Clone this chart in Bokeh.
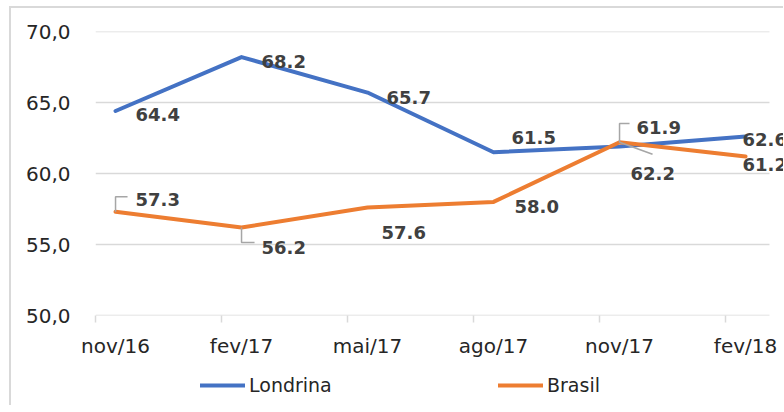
from bokeh.plotting import figure
from bokeh.layouts import column
from bokeh.models import ColumnDataSource, FixedTicker, Legend, LegendItem, Range1d
from bokeh.core.properties import value
from bokeh.embed import file_html
from bokeh.resources import INLINE

# ---- data ----
categories = ["nov/16", "fev/17", "mai/17", "ago/17", "nov/17", "fev/18"]
londrina = [64.4, 68.2, 65.7, 61.5, 61.9, 62.6]
brasil = [57.3, 56.2, 57.6, 58.0, 62.2, 61.2]
londrina_labels = ["64.4", "68.2", "65.7", "61.5", "61.9", "62.6"]
brasil_labels = ["57.3", "56.2", "57.6", "58.0", "62.2", "61.2"]
y_ticks = [50, 55, 60, 65, 70]
y_tick_labels = ["50,0", "55,0", "60,0", "65,0", "70,0"]
series_names = ["Londrina", "Brasil"]

# ---- styles / label placement (screen px) ----
BLUE = "#4472C4"
ORANGE = "#ED7D31"
GRID = "#d9d9d9"
TEXT = "#404040"
LEADER = "#a6a6a6"

lond_dx = [20, 20, 19, 18, 17, -3]
lond_dy = [3, 4, 5, -15, -19, 3]
bras_dx = [20, 20, 14, 21, 11, -3]
bras_dy = [-12, 20, 25, 5, 31, 8]

LEFT = 84
FRAME_W, FRAME_H = 688, 284
PX_X = 126.0
X_START = -0.159
GRID_END = 5.19
X_END = X_START + FRAME_W / PX_X
Y_START, Y_END = 50, 70
PX_Y = FRAME_H / (Y_END - Y_START)

x = list(range(len(categories)))

p = figure(frame_width=FRAME_W, frame_height=FRAME_H, output_backend="svg",
           toolbar_location=None,
           x_range=Range1d(X_START, X_END), y_range=Range1d(Y_START, Y_END),
           min_border_left=LEFT, min_border_right=0, min_border_top=23,
           min_border_bottom=50)
p.outline_line_color = None
p.background_fill_color = "white"
p.border_fill_color = "white"

# horizontal gridlines drawn up to the end of the category area
p.xgrid.grid_line_color = None
p.ygrid.grid_line_color = None
p.segment(x0=[X_START] * len(y_ticks), y0=y_ticks, x1=[GRID_END] * len(y_ticks),
          y1=y_ticks, line_color=GRID, line_width=1.5)

p.yaxis.ticker = FixedTicker(ticks=y_ticks, minor_ticks=[])
p.yaxis.major_label_overrides = {t: l for t, l in zip(y_ticks, y_tick_labels)}
p.yaxis.axis_line_color = None
p.yaxis.major_tick_line_color = None
p.yaxis.minor_tick_line_color = None
p.yaxis.major_label_standoff = 19
p.yaxis.major_label_text_font = "DejaVu Sans"
p.yaxis.major_label_text_font_size = "20px"
p.yaxis.major_label_text_color = "#262626"

p.xaxis.ticker = FixedTicker(ticks=x, minor_ticks=[i + X_START for i in x])
p.xaxis.major_label_overrides = {i: c for i, c in zip(x, categories)}
p.xaxis.axis_line_color = None
p.xaxis.major_tick_line_color = None
p.xaxis.major_tick_out = 0
p.xaxis.major_tick_in = 0
p.xaxis.minor_tick_line_color = GRID
p.xaxis.minor_tick_line_width = 1.5
p.xaxis.minor_tick_out = 7
p.xaxis.minor_tick_in = 0
p.xaxis.major_label_standoff = 11
p.xaxis.major_label_text_font = "DejaVu Sans"
p.xaxis.major_label_text_font_size = "20px"
p.xaxis.major_label_text_color = "#262626"

# lines
p.line(x, londrina, line_color=BLUE, line_width=4, line_join="round", line_cap="round")
p.line(x, brasil, line_color=ORANGE, line_width=4, line_join="round", line_cap="round")

# leader lines (anchored at data points, offsets in px)
leaders = [
    (brasil, 0, [(0, 0), (0, -15), (12, -15)]),
    (brasil, 1, [(0, 0), (0, 15), (13, 15)]),
    (londrina, 4, [(0, -4), (0, -23), (10, -23)]),
    (brasil, 4, [(0, 0), (33, 12)]),
]
lxs, lys = [], []
for series, i, offs in leaders:
    lxs.append([i + dx / PX_X for dx, dy in offs])
    lys.append([series[i] - dy / PX_Y for dx, dy in offs])
p.multi_line(lxs, lys, line_color=LEADER, line_width=1.5)

# data labels
src_l = ColumnDataSource(dict(x=x, y=londrina, t=londrina_labels, dx=lond_dx, dy=lond_dy))
src_b = ColumnDataSource(dict(x=x, y=brasil, t=brasil_labels, dx=bras_dx, dy=bras_dy))
for src in (src_l, src_b):
    p.text("x", "y", text="t", x_offset="dx", y_offset="dy", source=src,
           text_font=value("DejaVu Sans"), text_font_style="bold",
           text_font_size="18px", text_color=TEXT,
           text_align="left", text_baseline="middle")

# legend strip below the chart (legend renderers hold the series, drawn off-range)
lg = figure(frame_width=LEFT + FRAME_W, frame_height=40, output_backend="svg",
            toolbar_location=None, x_axis_type=None, y_axis_type=None,
            x_range=Range1d(-1, -0.5), y_range=Range1d(-1, -0.5),
            min_border=0)
lg.outline_line_color = None
lg.xgrid.grid_line_color = None
lg.ygrid.grid_line_color = None
lr = lg.line(x, londrina, line_color=BLUE, line_width=4, line_cap="round")
br = lg.line(x, brasil, line_color=ORANGE, line_width=4, line_cap="round")
legend = Legend(items=[LegendItem(label=series_names[0], renderers=[lr]),
                       LegendItem(label=series_names[1], renderers=[br])],
                orientation="horizontal", location=(189, 9),
                glyph_width=45, glyph_height=20, label_standoff=4,
                label_width=249, spacing=0, padding=0, margin=0,
                border_line_color=None, background_fill_alpha=0,
                label_text_font="DejaVu Sans", label_text_font_size="19px",
                label_text_color="#262626")
lg.add_layout(legend, "center")

layout = column(p, lg, spacing=0)
layout.styles = {"border-left": "2px solid #d9d9d9", "border-top": "2px solid #d9d9d9",
                 "margin-left": "9px", "margin-top": "6px"}

open("out.html", "w").write(file_html(layout, INLINE))
